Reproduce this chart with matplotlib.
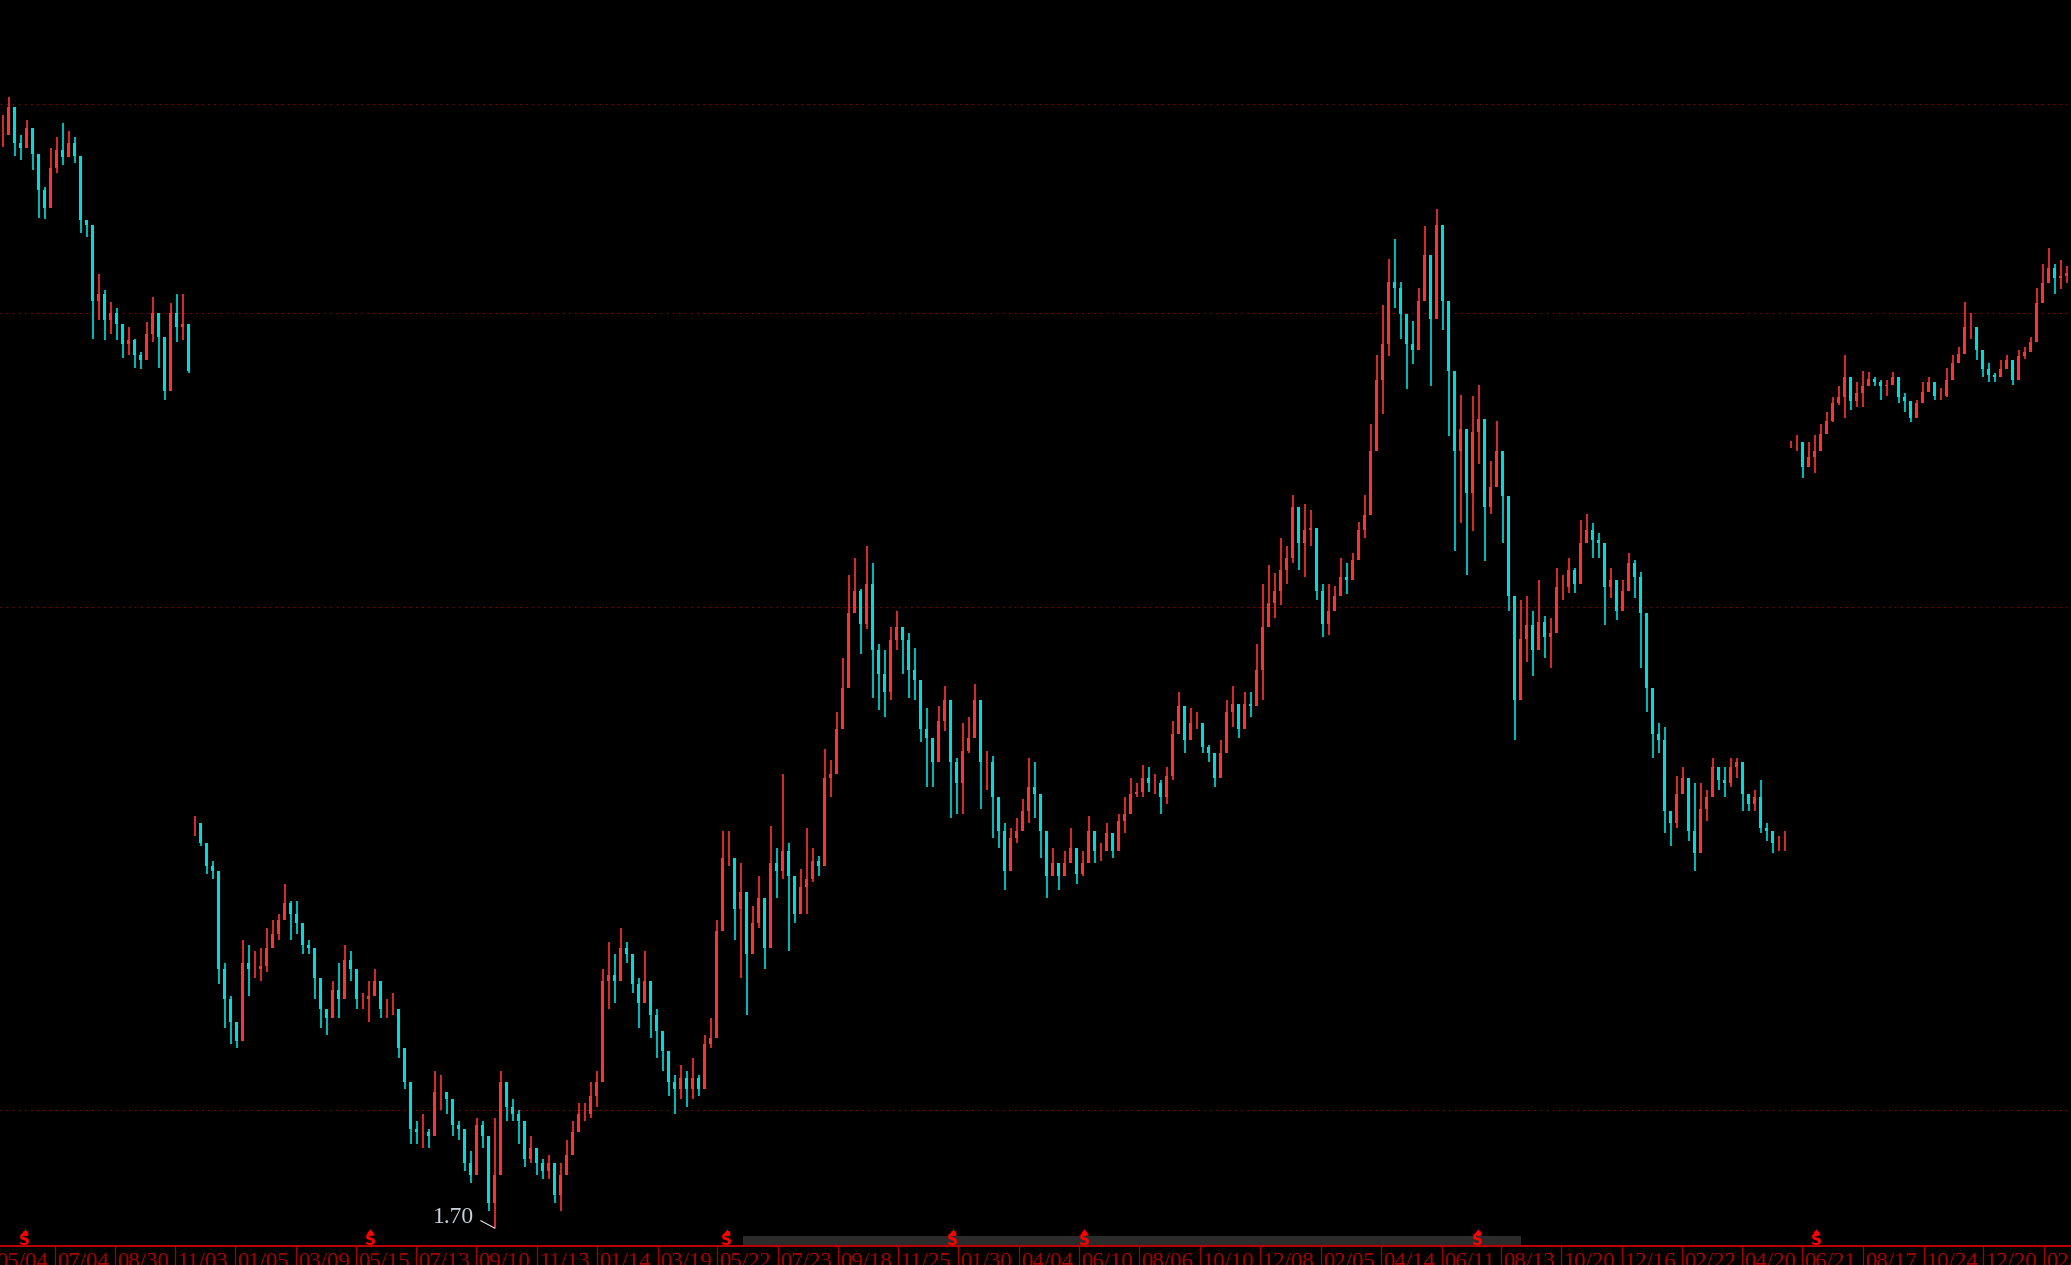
import numpy as np
import matplotlib
matplotlib.use('Agg')
import matplotlib.pyplot as plt

# prices, one row every few sessions
high_a = [7.88, 8.08, 7.66, 7.66, 7.82, 7.64, 7.27, 7.13, 7.53, 7.64, 7.79, 7.71, 7.64, 7.01, 6.82, 6.45,
          6.33, 6.19, 6.09, 6.04, 5.91, 5.88, 5.79, 5.68, 5.92, 6.13, 5.95, 5.72, 6.08, 6.16, 6.16, 5.76]
low_a = [7.54, 7.77, 7.45, 7.40, 7.63, 7.30, 6.84, 6.83, 7.20, 7.27, 7.35, 7.45, 7.37, 6.70, 6.66, 5.79,
         5.94, 5.78, 5.83, 5.78, 5.64, 5.66, 5.56, 5.55, 5.67, 5.76, 5.56, 5.32, 5.78, 5.76, 5.78, 5.52]
close_a = [7.66, 7.96, 7.58, 7.53, 7.74, 7.47, 7.10, 6.93, 7.32, 7.51, 7.43, 7.58, 7.45, 6.82, 6.77, 6.10,
           6.16, 5.94, 6.00, 5.91, 5.75, 5.78, 5.66, 5.62, 5.83, 6.00, 5.80, 5.39, 6.00, 5.88, 5.91, 5.54]

high_b = [3.00, 2.94, 2.84, 2.82, 2.59, 2.45, 2.34, 2.24, 2.53, 2.51, 2.49, 2.50, 2.57, 2.60, 2.62, 2.73,
          2.67, 2.67, 2.53, 2.53, 2.46, 2.35, 2.30, 2.39, 2.45, 2.51, 2.49, 2.37, 2.35, 2.39, 2.43, 2.35,
          2.33, 2.35, 2.24, 2.11, 2.01, 1.97, 1.99, 1.95, 2.11, 2.10, 2.05, 1.98, 1.97, 1.87, 1.89, 1.98,
          1.97, 1.86, 1.98, 2.11, 2.05, 2.03, 2.00, 1.88,
          1.93, 1.89, 1.87, 1.88, 1.82, 1.86, 1.92, 1.97, 2.02, 2.02, 2.08, 2.11, 2.43, 2.52, 2.48, 2.57,
          2.52, 2.43, 2.40, 2.49, 2.36, 2.30, 2.23, 2.14, 2.10, 2.13, 2.11, 2.15, 2.10, 2.22, 2.27, 2.60,
          2.94, 2.94, 2.74, 2.81, 2.62, 2.65, 2.76, 2.59, 2.96, 2.87, 3.18, 2.89, 2.71, 2.79, 2.95, 2.87, 2.84,
          3.29, 3.24, 3.46, 3.73, 4.18, 4.28, 4.10, 4.35, 4.25, 3.80, 3.77, 3.89, 3.98, 3.89, 3.86, 3.78,
          3.42, 3.48, 3.31, 3.49, 3.59, 3.41, 3.25, 3.41, 3.44, 3.60, 3.49, 3.28, 3.26, 3.02, 2.97, 2.95,
          2.99, 3.07, 3.25, 3.23, 3.01, 2.89, 2.87, 2.81, 2.86, 2.95, 2.81, 2.86, 3.00, 2.89, 2.89, 2.97,
          2.90, 3.01, 3.08, 3.16, 3.14,
          3.22, 3.21, 3.18, 3.15, 3.21, 3.42, 3.56, 3.46, 3.48, 3.46, 3.33, 3.31, 3.27, 3.33, 3.52, 3.59,
          3.42, 3.56, 3.56, 3.80, 4.13, 4.24, 4.19, 4.40, 4.35, 4.67, 4.51, 4.61, 4.57, 4.37, 4.13, 4.13,
          4.12, 4.28, 4.25, 4.31, 4.50, 4.67,
          5.15, 5.66, 6.06, 6.46, 6.64, 6.26, 5.99, 5.93, 6.21, 6.76, 6.31, 6.92, 6.38, 5.83, 5.24, 5.36,
          5.05, 5.35, 5.43, 4.80, 4.89, 5.17, 4.80, 4.21, 3.71, 4.04, 4.06, 3.98, 4.15, 3.95,
          3.94, 4.22, 4.18, 4.28, 4.22, 4.51, 4.55, 4.49, 4.43, 4.35, 4.22, 4.06, 4.15, 4.31, 4.27, 4.20,
          3.77, 3.52, 3.41, 3.39, 3.02, 3.17, 3.21, 3.12, 3.14, 3.14, 3.11, 3.25, 3.18, 3.21, 3.25, 3.25,
          3.19, 3.08, 3.11, 3.15, 2.97, 2.92, 2.92, 2.94]
low_b = [2.92, 2.88, 2.77, 2.75, 2.38, 2.24, 2.19, 2.18, 2.34, 2.34, 2.40, 2.39, 2.42, 2.50, 2.53, 2.61,
         2.53, 2.55, 2.48, 2.48, 2.33, 2.24, 2.22, 2.33, 2.27, 2.39, 2.39, 2.30, 2.30, 2.26, 2.34, 2.27,
         2.27, 2.28, 2.15, 2.06, 1.91, 1.91, 1.90, 1.90, 2.00, 2.00, 1.99, 1.93, 1.92, 1.84, 1.81, 1.91,
         1.90, 1.74, 1.70, 2.03, 1.97, 1.97, 1.91, 1.85,
         1.86, 1.83, 1.82, 1.82, 1.76, 1.74, 1.84, 1.90, 1.95, 1.97, 1.98, 2.01, 2.16, 2.30, 2.32, 2.41,
         2.45, 2.35, 2.24, 2.34, 2.21, 2.15, 2.11, 2.04, 1.99, 2.03, 2.01, 2.03, 2.04, 2.14, 2.18, 2.30,
         2.64, 2.80, 2.53, 2.40, 2.28, 2.50, 2.57, 2.43, 2.72, 2.68, 2.75, 2.49, 2.59, 2.62, 2.62, 2.74, 2.76,
         3.04, 3.08, 3.21, 3.41, 3.67, 3.98, 3.75, 3.88, 3.53, 3.47, 3.44, 3.52, 3.77, 3.65, 3.53, 3.52,
         3.32, 3.12, 3.12, 3.36, 3.37, 2.99, 3.01, 3.01, 3.27, 3.44, 3.03, 3.11, 2.91, 2.87, 2.71, 2.83,
         2.89, 2.97, 2.97, 2.99, 2.83, 2.68, 2.76, 2.71, 2.76, 2.81, 2.73, 2.76, 2.89, 2.81, 2.82, 2.90,
         2.83, 2.93, 2.93, 3.01, 3.08,
         3.08, 3.10, 3.09, 3.01, 3.05, 3.15, 3.39, 3.27, 3.36, 3.38, 3.27, 3.23, 3.12, 3.18, 3.38, 3.39,
         3.34, 3.42, 3.44, 3.50, 3.52, 3.89, 3.94, 4.01, 4.13, 4.25, 4.21, 4.17, 4.35, 4.04, 3.84, 3.85,
         4.00, 4.07, 4.07, 4.20, 4.28, 4.40,
         4.87, 5.09, 5.22, 5.65, 6.04, 5.79, 5.40, 5.59, 5.99, 6.21, 5.42, 6.42, 5.86, 5.06, 4.32, 4.49,
         4.18, 4.44, 4.87, 4.26, 4.55, 4.81, 4.37, 3.98, 3.33, 3.62, 3.71, 3.64, 3.84, 3.73,
         3.68, 4.00, 4.04, 4.08, 4.08, 4.15, 4.39, 4.28, 4.28, 3.90, 4.05, 3.93, 4.03, 4.11, 4.05, 3.68,
         3.46, 3.25, 3.27, 2.93, 2.88, 2.95, 3.09, 2.90, 2.78, 2.98, 2.98, 3.08, 3.11, 3.08, 3.12, 3.16,
         3.02, 3.02, 3.02, 2.93, 2.90, 2.85, 2.86, 2.86]
close_b = [2.97, 2.89, 2.80, 2.78, 2.43, 2.33, 2.26, 2.20, 2.45, 2.43, 2.43, 2.44, 2.50, 2.55, 2.60, 2.66,
           2.62, 2.59, 2.51, 2.50, 2.40, 2.30, 2.27, 2.36, 2.33, 2.46, 2.43, 2.33, 2.33, 2.34, 2.39, 2.30,
           2.30, 2.30, 2.18, 2.08, 1.95, 1.94, 1.94, 1.93, 2.05, 2.05, 2.03, 1.96, 1.95, 1.86, 1.83, 1.96,
           1.93, 1.76, 1.83, 2.08, 2.01, 1.99, 1.97, 1.87,
           1.90, 1.86, 1.84, 1.86, 1.78, 1.83, 1.88, 1.94, 1.99, 1.99, 2.04, 2.08, 2.39, 2.41, 2.39, 2.50,
           2.48, 2.38, 2.32, 2.39, 2.28, 2.23, 2.17, 2.08, 2.06, 2.09, 2.06, 2.09, 2.06, 2.19, 2.21, 2.56,
           2.83, 2.83, 2.64, 2.70, 2.48, 2.59, 2.68, 2.50, 2.81, 2.78, 2.86, 2.76, 2.62, 2.72, 2.75, 2.82, 2.80,
           3.16, 3.18, 3.38, 3.58, 3.97, 4.09, 3.91, 4.13, 3.77, 3.65, 3.56, 3.82, 3.89, 3.82, 3.67, 3.62,
           3.38, 3.34, 3.23, 3.42, 3.52, 3.23, 3.14, 3.28, 3.34, 3.52, 3.23, 3.23, 3.08, 2.94, 2.78, 2.91,
           2.94, 3.02, 3.12, 3.09, 2.94, 2.76, 2.81, 2.76, 2.81, 2.87, 2.77, 2.81, 2.94, 2.86, 2.86, 2.93,
           2.86, 2.98, 3.01, 3.09, 3.10,
           3.16, 3.14, 3.14, 3.08, 3.17, 3.36, 3.49, 3.33, 3.41, 3.41, 3.30, 3.27, 3.16, 3.27, 3.46, 3.50,
           3.38, 3.50, 3.49, 3.67, 3.89, 4.02, 4.09, 4.21, 4.28, 4.59, 4.37, 4.45, 4.46, 4.09, 3.91, 3.98,
           4.06, 4.17, 4.15, 4.27, 4.45, 4.54,
           4.96, 5.47, 5.75, 6.26, 6.21, 5.99, 5.75, 5.70, 6.10, 6.50, 5.95, 6.77, 6.10, 5.54, 4.96, 5.11,
           4.68, 5.09, 5.18, 4.59, 4.72, 4.96, 4.66, 4.06, 3.52, 3.83, 3.90, 3.77, 3.92, 3.84,
           3.86, 4.11, 4.11, 4.21, 4.13, 4.37, 4.45, 4.39, 4.37, 4.11, 4.15, 3.98, 4.09, 4.25, 4.17, 3.97,
           3.58, 3.36, 3.33, 3.02, 2.97, 3.09, 3.16, 2.94, 2.85, 3.03, 3.08, 3.21, 3.15, 3.14, 3.21, 3.23,
           3.09, 3.05, 3.08, 2.95, 2.94, 2.89, 2.89, 2.89]

high_c = [5.03, 5.07, 4.88, 5.02, 5.07, 5.15, 5.23, 5.34, 5.42, 5.66, 5.34, 5.45, 5.54, 5.53, 5.49, 5.47,
          5.47, 5.53, 5.42, 5.37, 5.21, 5.32, 5.45, 5.49, 5.39, 5.41, 5.56, 5.66, 5.72, 6.09, 6.00, 5.78,
          5.60, 5.60, 5.52, 5.62, 5.66, 5.53, 5.70, 5.72, 5.80, 6.21, 6.42, 6.56, 6.42, 6.45, 6.40, 6.66]
low_c = [4.98, 4.96, 4.78, 4.85, 4.81, 5.02, 5.14, 5.16, 5.28, 5.19, 5.25, 5.27, 5.27, 5.42, 5.42, 5.32,
         5.35, 5.45, 5.30, 5.23, 5.16, 5.25, 5.33, 5.39, 5.32, 5.32, 5.34, 5.53, 5.60, 5.68, 5.79, 5.62,
         5.49, 5.45, 5.45, 5.49, 5.55, 5.43, 5.60, 5.63, 5.72, 5.95, 6.08, 6.29, 6.16, 6.20, 6.25, 6.36]
close_c = [5.02, 5.02, 4.85, 4.92, 4.96, 5.08, 5.17, 5.30, 5.34, 5.49, 5.31, 5.37, 5.42, 5.48, 5.45, 5.42,
           5.43, 5.49, 5.34, 5.31, 5.19, 5.30, 5.38, 5.45, 5.35, 5.35, 5.47, 5.60, 5.67, 5.88, 5.88, 5.70,
           5.55, 5.51, 5.49, 5.55, 5.62, 5.47, 5.65, 5.68, 5.76, 6.08, 6.25, 6.38, 6.29, 6.31, 6.34, 6.45]

grid_levels = [2, 4, 6, 8]
low_price = 1.70

# bar number where each date label starts
date_labels = ['05/04', '07/04', '08/30', '11/03', '01/05', '03/09', '05/15', '07/13', '09/10', '11/13',
               '01/14', '03/19', '05/22', '07/23', '09/18', '11/25', '01/30', '04/04', '06/10', '08/06',
               '10/10', '12/08', '02/05', '04/14', '06/11', '08/13', '10/20', '12/16', '02/22', '04/20',
               '06/21', '08/17', '10/24', '12/20', '02/24']
date_bars = [-1.5, 8.6, 18.6, 28.7, 38.7, 48.8, 58.8, 68.9, 78.9, 89.0, 99.0, 109.1, 119.0, 129.2, 139.2,
             149.2, 159.2, 169.4, 179.4, 189.4, 199.5, 209.5, 219.6, 229.7, 239.8, 249.7, 259.7, 269.9,
             279.9, 289.9, 299.9, 310.0, 320.1, 330.0, 340.2]
event_bars = [3.6, 61.2, 120.6, 158.3, 180.2, 245.8, 302.2]
range_start, range_end = 123.3, 253.0

red = '#ff3232'
cyan = '#00dcdc'
dark_red = '#a80000'

fig = plt.figure(figsize=(20.71, 12.65), dpi=100, facecolor='black')
ax = fig.add_axes([0, 19 / 1265, 1, 1246 / 1265], facecolor='black')


def draw_candles(start, high, low, close):
    high, low, close = np.array(high), np.array(low), np.array(close)
    bars = start + np.arange(len(close))
    opens = np.r_[close[0], close[:-1]]
    colors = [red if c >= o else cyan for o, c in zip(opens, close)]
    ax.vlines(bars, low, high, colors=colors, linewidth=1.2, zorder=3)
    ax.bar(bars, np.abs(close - opens), bottom=np.minimum(opens, close), width=0.5, color=colors,
           linewidth=0, zorder=3)


draw_candles(0, high_a, low_a, close_a)
draw_candles(len(close_a), high_b, low_b, close_b)
draw_candles(len(close_a) + len(close_b), high_c, low_c, close_c)

ax.set_yscale('log')
ax.set_ylim(1.659, 9.23)
ax.set_xlim(-0.5, 344.67)
ax.yaxis.set_visible(False)
ax.set_xticks([])

for level in grid_levels:
    ax.axhline(level, color='#8c0000', linewidth=0.8, dashes=(1.5, 4), zorder=1)

# range bar and event markers sit on the axis line
ax.axvspan(range_start, range_end, ymin=1 / 1246, ymax=10 / 1246, color='#2b2b2b', linewidth=0, zorder=1)
trans = ax.get_xaxis_transform()
ax.plot(event_bars, [0.0104] * len(event_bars), 'o', ms=4, color='#ff0000', mew=0, transform=trans, zorder=4)
ax.vlines(event_bars, 0.0104, 0.0136, color='#ff0000', linewidth=0.8, transform=trans, zorder=4)
for bar in event_bars:
    ax.text(bar, 0.0005, 'S', color='#ff0000', fontsize=11, fontweight='bold', family='DejaVu Sans',
            ha='center', va='baseline', transform=trans, zorder=4)

low_bar = len(close_a) + int(np.argmin(low_b))
ax.annotate('1.70', xy=(low_bar, low_price), xytext=(-15, 8), textcoords='offset points', ha='right',
            va='center', color='#c8d0d8', fontsize=17, family='Liberation Serif',
            arrowprops=dict(arrowstyle='-', color='white', lw=0.7, relpos=(1, 0.5), shrinkA=3, shrinkB=0),
            zorder=5)

for side in ['top', 'left', 'right']:
    ax.spines[side].set_visible(False)
ax.spines['bottom'].set_color('#c00000')
ax.spines['bottom'].set_linewidth(1.4)

# date strip under the axis line, first and last labels run off the edges
ax.vlines(date_bars, -19 / 1246, 0, color=dark_red, linewidth=0.9, transform=trans, clip_on=False)
for bar, label in zip(date_bars, date_labels):
    ax.annotate(label, xy=(bar, 0), xycoords=trans, xytext=(1.5, -4.3), textcoords='offset points', ha='left',
                va='top', color=dark_red, fontsize=16.5, family='Liberation Serif', annotation_clip=False)

fig.savefig('out.png', dpi=100, facecolor='black')
